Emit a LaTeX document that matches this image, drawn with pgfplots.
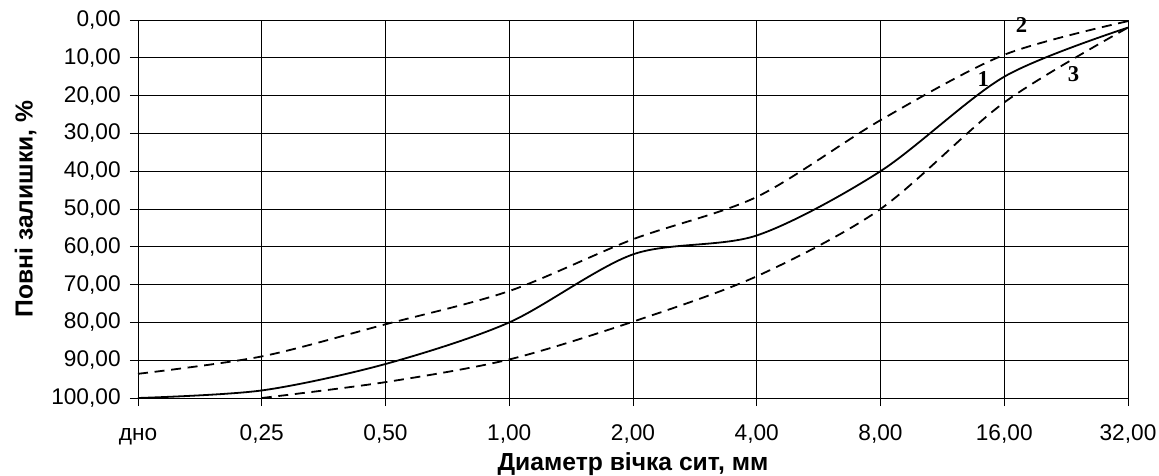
\documentclass[border=0pt]{standalone}
\usepackage{fontspec}
\setmainfont{Liberation Sans}
\newfontfamily\numfont{Liberation Serif}
\usepackage{pgfplots}
\pgfplotsset{compat=1.18}

\begin{document}
\begin{tikzpicture}
\begin{axis}[
  name=a,
  scale only axis, width=742.5pt, height=283.5pt,
  xmin=0, xmax=8, ymin=0, ymax=100, y dir=reverse,
  xtick={0,...,8},
  xticklabels={дно,{0,25},{0,50},{1,00},{2,00},{4,00},{8,00},{16,00},{32,00}},
  ytick={0,10,...,100},
  /pgf/number format/.cd, fixed, fixed zerofill, precision=2, use comma, assume math mode=true,
  /pgfplots/.cd,
  grid=major, grid style={black, line width=0.6pt},
  axis line style={black, line width=0.6pt},
  tick align=outside, tick pos=left, major tick length=6pt,
  tick style={black, line width=0.6pt},
  ticklabel style={font=\fontsize{17}{19}\selectfont},
  xticklabel style={text height=12.5pt, text depth=0pt, yshift=-9.5pt},
  yticklabel style={xshift=-3.5pt},
  xlabel={\textbf{Диаметр вічка сит, мм}},
  ylabel={\textbf{Повні залишки, \%}},
  label style={font=\fontsize{18.5}{20}\selectfont},
  xlabel style={at={([yshift=-54pt]axis description cs:0.5,0)}, anchor=base},
  ylabel style={at={([xshift=-79pt]axis description cs:0,0.5)}, anchor=base},
  clip=false,
]
% 1 - solid
\addplot[black, line width=1.35pt, smooth] coordinates {
  (0,100) (1,98) (2,91) (3,80) (4,62) (5,57) (6,40) (7,15) (8,2)};
% 2 - upper dashed
\addplot[black, line width=1.35pt, smooth, dash pattern=on 7.5pt off 5pt] coordinates {
  (0,93.6) (1,89) (2,80.5) (3,71.7) (4,58) (5,46.8) (6,26.5) (7,9.2) (8,0.3)};
% 3 - lower dashed
\addplot[black, line width=1.35pt, smooth, dash pattern=on 7.5pt off 5pt] coordinates {
  (1,100) (2,95.8) (3,89.8) (4,79.8) (5,67.8) (6,50) (7,21.8) (8,2)};
\node[font=\numfont\bfseries\fontsize{17}{19}\selectfont] at (axis cs:7.14,1.4) {2};
\node[font=\numfont\bfseries\fontsize{17}{19}\selectfont] at (axis cs:6.83,15.5) {1};
\node[font=\numfont\bfseries\fontsize{17}{19}\selectfont] at (axis cs:7.56,14.3) {3};
\end{axis}
\pgfresetboundingbox
\path ([shift={(-103.5pt,-57.75pt)}]a.south west) rectangle ([shift={(765.75pt,298.5pt)}]a.south west);
\end{tikzpicture}
\end{document}
